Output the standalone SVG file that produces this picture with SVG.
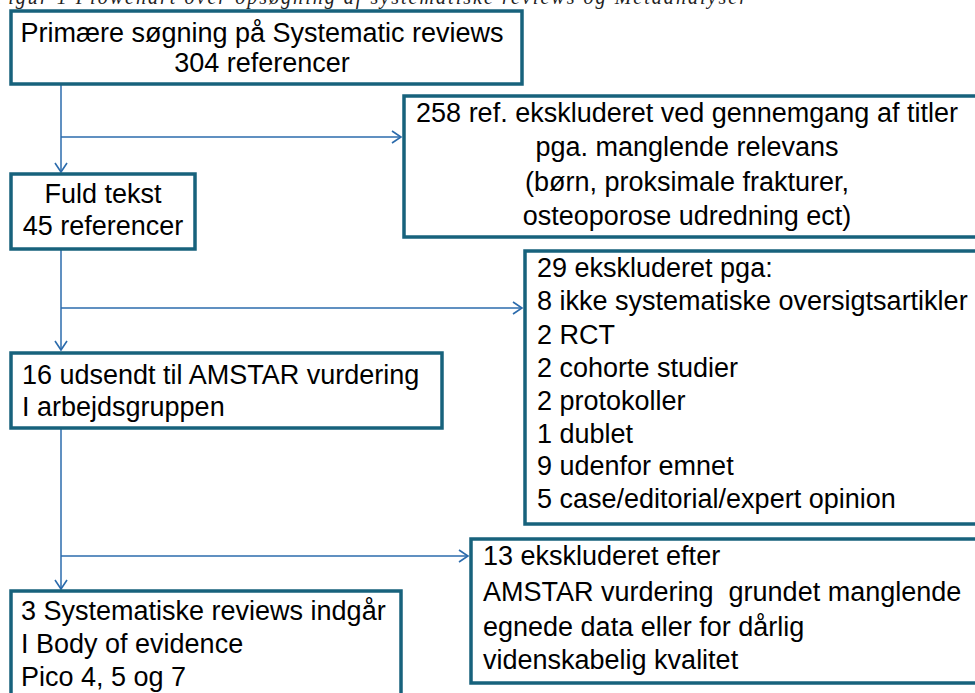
<svg xmlns="http://www.w3.org/2000/svg" width="975" height="693" viewBox="0 0 975 693">
<defs>
<style>
.box{fill:#ffffff;stroke:#17627C;stroke-width:3.5}
.t{font-family:"Liberation Sans",Arial,sans-serif;font-size:27px;fill:#000}
.c{text-anchor:middle}
.ln{stroke:#2B6BAC;stroke-width:1.5;fill:none}
.cap{font-family:"Liberation Serif","Times New Roman",serif;font-style:italic;font-size:20px;fill:#222}
</style>
<marker id="ah" markerWidth="12" markerHeight="14" refX="10" refY="7" orient="auto" markerUnits="userSpaceOnUse">
<path d="M1,1 L10,7 L1,13" fill="none" stroke="#2B6BAC" stroke-width="1.6"/>
</marker>
</defs>
<rect width="975" height="693" fill="#ffffff"/>
<text class="cap" x="-6" y="4" textLength="753">Figur 1 Flowchart over opsøgning af systematiske reviews og Metaanalyser</text>
<g id="connectors">
<path class="ln" d="M61,85 V172" marker-end="url(#ah)"/>
<path class="ln" d="M61,137 H401" marker-end="url(#ah)"/>
<path class="ln" d="M61,250 V350" marker-end="url(#ah)"/>
<path class="ln" d="M61,308 H522" marker-end="url(#ah)"/>
<path class="ln" d="M61,429 V589" marker-end="url(#ah)"/>
<path class="ln" d="M61,556 H468" marker-end="url(#ah)"/>
</g>
<g id="n1">
<rect class="box" x="11" y="11" width="511" height="73"/>
<text class="t c" x="262" y="42">Primære søgning på Systematic reviews</text>
<text class="t c" x="262" y="72">304 referencer</text>
</g>
<g id="n2">
<rect class="box" x="404" y="96" width="580" height="141"/>
<text class="t c" x="687" y="122">258 ref. ekskluderet ved gennemgang af titler</text>
<text class="t c" x="687" y="156">pga. manglende relevans</text>
<text class="t c" x="687" y="191">(børn, proksimale frakturer,</text>
<text class="t c" x="687" y="225">osteoporose udredning ect)</text>
</g>
<g id="n3">
<rect class="box" x="11" y="174" width="184" height="75"/>
<text class="t c" x="103" y="203">Fuld tekst</text>
<text class="t c" x="103" y="235">45 referencer</text>
</g>
<g id="n4">
<rect class="box" x="525" y="251" width="460" height="273"/>
<text class="t" x="537" y="277">29 ekskluderet pga:</text>
<text class="t" x="537" y="310">8 ikke systematiske oversigtsartikler</text>
<text class="t" x="537" y="344">2 RCT</text>
<text class="t" x="537" y="377">2 cohorte studier</text>
<text class="t" x="537" y="410">2 protokoller</text>
<text class="t" x="537" y="443">1 dublet</text>
<text class="t" x="537" y="475">9 udenfor emnet</text>
<text class="t" x="537" y="508">5 case/editorial/expert opinion</text>
</g>
<g id="n5">
<rect class="box" x="11" y="353" width="431" height="75"/>
<text class="t" x="22" y="384">16 udsendt til AMSTAR vurdering</text>
<text class="t" x="22" y="416">I arbejdsgruppen</text>
</g>
<g id="n6">
<rect class="box" x="471" y="539" width="510" height="144"/>
<text class="t" x="483" y="565">13 ekskluderet efter</text>
<text class="t" x="483" y="601" xml:space="preserve">AMSTAR vurdering  grundet manglende</text>
<text class="t" x="483" y="636">egnede data eller for dårlig</text>
<text class="t" x="483" y="669">videnskabelig kvalitet</text>
</g>
<g id="n7">
<rect class="box" x="11" y="591" width="390" height="110"/>
<text class="t" x="21" y="620">3 Systematiske reviews indgår</text>
<text class="t" x="21" y="653">I Body of evidence</text>
<text class="t" x="21" y="686">Pico 4, 5 og 7</text>
</g>
</svg>
